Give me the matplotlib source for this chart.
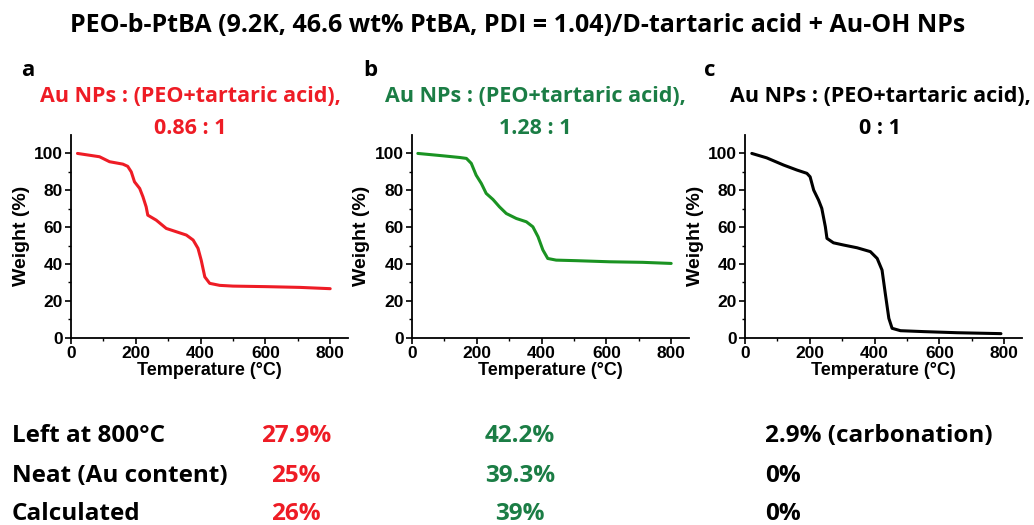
import numpy as np
import matplotlib.pyplot as plt

# TGA curves (temperature in C, weight in %)
temp_a = [20, 88, 119, 160, 175, 186, 196, 212, 222, 232, 237, 263, 294, 325, 356, 377, 392, 402, 413, 428, 459, 500, 604, 707, 800]
weight_a = [100, 98.2, 95.5, 94.2, 93, 90, 84.6, 81, 76.5, 71, 66.5, 63.8, 59.3, 57.5, 55.7, 53, 48.5, 42, 33, 29.5, 28.4, 28, 27.7, 27.3, 26.6]

temp_b = [18, 96, 147, 168, 183, 198, 214, 229, 250, 270, 291, 322, 353, 373, 389, 404, 419, 445, 507, 610, 712, 800]
weight_b = [100, 98.7, 97.8, 97.3, 94.6, 88.2, 83.7, 78.3, 75, 71, 67.4, 64.7, 62.9, 60.2, 54.8, 47.6, 43, 42.1, 41.8, 41.2, 40.9, 40.3]

temp_c = [21, 67, 119, 160, 191, 201, 212, 227, 237, 248, 253, 273, 304, 346, 387, 408, 423, 433, 444, 454, 480, 552, 655, 790]
weight_c = [100, 97.6, 93.7, 91, 89.2, 87.3, 80.1, 74.7, 70.2, 60.2, 53.9, 51.5, 50.3, 48.8, 46.7, 43, 36.7, 24, 10.5, 5.1, 3.8, 3.3, 2.7, 2.2]

panel_letters = ['a', 'b', 'c']
ratios = ['0.86 : 1', '1.28 : 1', '0 : 1']
row_names = ['Left at 800\u00b0C', 'Neat (Au content)', 'Calculated']
col_a = ['27.9%', '25%', '26%']
col_b = ['42.2%', '39.3%', '39%']
col_c = ['2.9% (carbonation)', '0%', '0%']

red = '#ee1c25'
green_txt = '#1b7d45'
green_line = '#1a9322'
W, H = 1034, 525

fig = plt.figure(figsize=(W / 100, H / 100), dpi=100)

txt_font = 'Open Sans'
fig.text(518 / W, 1 - 26 / H,
         'PEO-b-PtBA (9.2K, 46.6 wt% PtBA, PDI = 1.04)/D-tartaric acid + Au-OH NPs',
         ha='center', va='center', fontsize=18, fontweight='bold', family=txt_font)

panels = [
    (temp_a, weight_a, red, red, 71, 28, 190),
    (temp_b, weight_b, green_line, green_txt, 412, 370, 535),
    (temp_c, weight_c, 'black', 'black', 745, 710, 880),
]

for i, (t, w, lc, tc, left_px, let_px, tit_px) in enumerate(panels):
    ax = fig.add_axes([left_px / W, 1 - 337.7 / H, 277 / W, 202.7 / H])
    ax.plot(t, w, color=lc, lw=2.2, solid_joinstyle='round', solid_capstyle='round')
    ax.set_xlim(0, 855)
    ax.set_ylim(0, 110)
    ax.set_xticks([0, 200, 400, 600, 800])
    ax.set_xticks([100, 300, 500, 700], minor=True)
    ax.set_yticks([0, 20, 40, 60, 80, 100])
    ax.set_yticks([10, 30, 50, 70, 90], minor=True)
    for s in ['top', 'right']:
        ax.spines[s].set_visible(False)
    for s in ['left', 'bottom']:
        ax.spines[s].set_linewidth(1.3)
    ax.tick_params(which='major', direction='out', length=4, width=1.2, labelsize=12.5, pad=2)
    ax.tick_params(which='minor', direction='out', length=2.5, width=1.0)
    for lab in ax.get_xticklabels() + ax.get_yticklabels():
        lab.set_fontweight('bold')
        lab.set_family('Liberation Sans')
    ax.set_xlabel('Temperature (\u00b0C)', fontsize=13, fontweight='bold', family='Liberation Sans', labelpad=1)
    ax.set_ylabel('Weight (%)', fontsize=14, fontweight='bold', family='Liberation Sans', labelpad=3)

    fig.text(let_px / W, 1 - 70 / H, panel_letters[i], ha='center', va='center',
             fontsize=16, fontweight='bold', family=txt_font)
    fig.text(tit_px / W, 1 - 97 / H, 'Au NPs : (PEO+tartaric acid),', ha='center', va='center',
             fontsize=15.5, fontweight='bold', family=txt_font, color=tc)
    fig.text(tit_px / W, 1 - 128 / H, ratios[i], ha='center', va='center',
             fontsize=15.5, fontweight='bold', family=txt_font, color=tc)

row_y = [436, 476, 514]
for j, y in enumerate(row_y):
    fig.text(12 / W, 1 - y / H, row_names[j], ha='left', va='center',
             fontsize=17.5, fontweight='bold', family=txt_font)
    fig.text(296 / W, 1 - y / H, col_a[j], ha='center', va='center',
             fontsize=17.5, fontweight='bold', family=txt_font, color=red)
    fig.text(520 / W, 1 - y / H, col_b[j], ha='center', va='center',
             fontsize=17.5, fontweight='bold', family=txt_font, color=green_txt)
    fig.text(765 / W, 1 - y / H, col_c[j], ha='left', va='center',
             fontsize=17.5, fontweight='bold', family=txt_font)

fig.savefig('out.png', dpi=100)
